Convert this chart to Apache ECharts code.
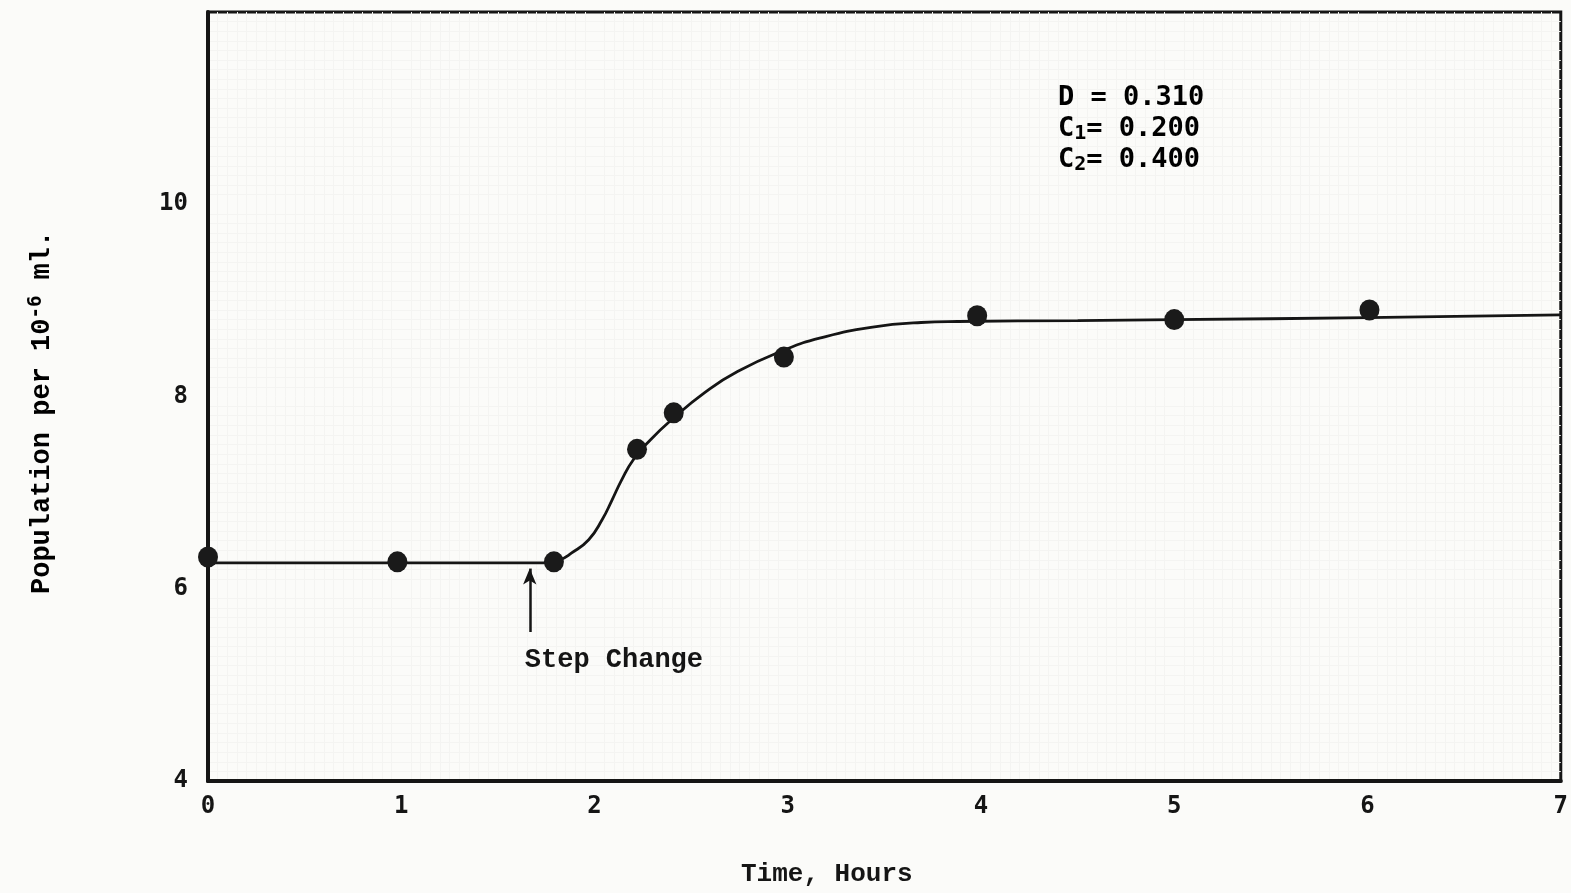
<!DOCTYPE html>
<html>
<head>
<meta charset="utf-8">
<script src="https://cdn.jsdelivr.net/npm/echarts@6/dist/echarts.min.js"></script>
<style>
  html, body { margin: 0; padding: 0; background: #fbfbf9; }
  #chart { width: 1571px; height: 893px; }
</style>
</head>
<body>
<div id="chart"></div>
<script>
// Axis ticks
const xTicks = [0, 1, 2, 3, 4, 5, 6, 7];
const yTicks = [4, 6, 8, 10];

// Measured population (per 10^-6 ml) against time in hours
const measuredTime = [0, 0.98, 1.79, 2.22, 2.41, 2.98, 3.98, 5.0, 6.01];
const measuredPop  = [6.33, 6.28, 6.28, 7.45, 7.83, 8.41, 8.84, 8.80, 8.90];

// Fitted response curve
const curveTime = [0, 1.0, 1.75, 1.82, 1.88, 1.97, 2.04, 2.09, 2.14, 2.20, 2.29, 2.40, 2.57, 2.74, 2.99, 3.17, 3.43, 3.69, 3.88, 4.5, 5.0, 6.0, 7.0];
const curvePop  = [6.27, 6.27, 6.27, 6.30, 6.37, 6.51, 6.72, 6.92, 7.13, 7.34, 7.55, 7.76, 8.04, 8.26, 8.49, 8.61, 8.72, 8.77, 8.78, 8.79, 8.80, 8.82, 8.85];

// Step change marker
const stepTime = 1.665;
const stepArrow = [5.55, 6.21];
const stepLabel = 'Step Change';

// Run conditions
const runLines = [
  ['D', ' = 0.310'],
  ['C', '1', '= 0.200'],
  ['C', '2', '= 0.400']
];

const ink = '#151515';
const monoSans = '"DejaVu Sans Mono", monospace';
const monoSerif = '"Liberation Mono", "Courier New", monospace';

const chart = echarts.init(document.getElementById('chart'));

const zip = (a, b) => a.map((v, i) => [v, b[i]]);

chart.setOption({
  backgroundColor: '#fbfbf9',
  animation: false,
  grid: {
    left: 208, right: 6, top: 12, bottom: 112,
    show: true, borderColor: ink, borderWidth: 3, backgroundColor: 'transparent'
  },
  xAxis: {
    type: 'value', min: xTicks[0], max: xTicks[xTicks.length - 1], interval: 1,
    axisLine: { lineStyle: { color: ink, width: 4 } },
    axisTick: { show: false },
    splitLine: { show: false },
    minorTick: { show: false, splitNumber: 20 },
    minorSplitLine: { show: true, lineStyle: { color: '#f4f4f2', width: 1 } },
    axisLabel: {
      margin: 14, color: ink, fontFamily: monoSans, fontWeight: 'bold', fontSize: 24,
      formatter: v => xTicks.includes(v) ? String(v) : ''
    }
  },
  yAxis: {
    type: 'value', min: 4, max: 12, interval: 2,
    axisLine: { show: true, lineStyle: { color: ink, width: 4 } },
    axisTick: { show: false },
    splitLine: { show: false },
    minorTick: { show: false, splitNumber: 20 },
    minorSplitLine: { show: true, lineStyle: { color: '#f4f4f2', width: 1 } },
    axisLabel: {
      margin: 20, color: ink, fontFamily: monoSans, fontWeight: 'bold', fontSize: 24,
      formatter: v => yTicks.includes(v) ? String(v) : ''
    }
  },
  series: [
    {
      name: 'curve',
      type: 'line',
      data: zip(curveTime, curvePop),
      smooth: 0.5,
      showSymbol: false,
      lineStyle: { color: ink, width: 2.8 },
      markLine: {
        silent: true,
        symbol: ['none', 'arrow'],
        symbolSize: [10, 16],
        label: { show: false },
        lineStyle: { color: ink, width: 2.5, type: 'solid' },
        data: [[{ coord: [stepTime, stepArrow[0]] }, { coord: [stepTime, stepArrow[1]] }]]
      },
      z: 2
    },
    {
      name: 'measured',
      type: 'scatter',
      data: zip(measuredTime, measuredPop),
      symbol: 'circle',
      symbolSize: [20, 21],
      itemStyle: { color: '#1a1a1a', opacity: 1 },
      z: 3
    }
  ]
});

// Text annotations placed through the axis scales
const stepPos = chart.convertToPixel({ gridIndex: 0 }, [stepTime, stepArrow[0]]);

const runRich = {
  t: { fontFamily: monoSans, fontWeight: 'bold', fontSize: 27, color: ink, lineHeight: 31 },
  s: { fontFamily: monoSans, fontWeight: 'bold', fontSize: 20, color: ink, lineHeight: 31, padding: [10, 0, 0, 0] }
};
const runText = runLines.map(l => l.length === 2
  ? `{t|${l[0]}}{t|${l[1]}}`
  : `{t|${l[0]}}{s|${l[1]}}{t|${l[2]}}`).join('\n');

chart.setOption({
  graphic: [
    {
      type: 'text', left: 1058, top: 84,
      style: { text: runText, rich: runRich }
    },
    {
      type: 'text', x: stepPos[0] - 5, y: stepPos[1] + 15,
      style: {
        text: stepLabel, fontFamily: monoSerif, fontWeight: 'bold', fontSize: 27, fill: ink
      }
    },
    {
      type: 'text', x: 741, y: 861,
      style: {
        text: 'Time, Hours', fontFamily: monoSerif, fontWeight: 'bold', fontSize: 26, fill: ink
      }
    },
    {
      type: 'text', x: 27, y: 594, rotation: Math.PI / 2,
      style: {
        text: '{t|Population per 10}{u|-6}{t| ml.}',
        rich: {
          t: { fontFamily: monoSerif, fontWeight: 'bold', fontSize: 27, color: ink, lineHeight: 30 },
          u: { fontFamily: monoSans, fontWeight: 'bold', fontSize: 19, color: ink, lineHeight: 30, padding: [0, 0, 12, 0] }
        }
      }
    }
  ]
});
</script>
</body>
</html>
